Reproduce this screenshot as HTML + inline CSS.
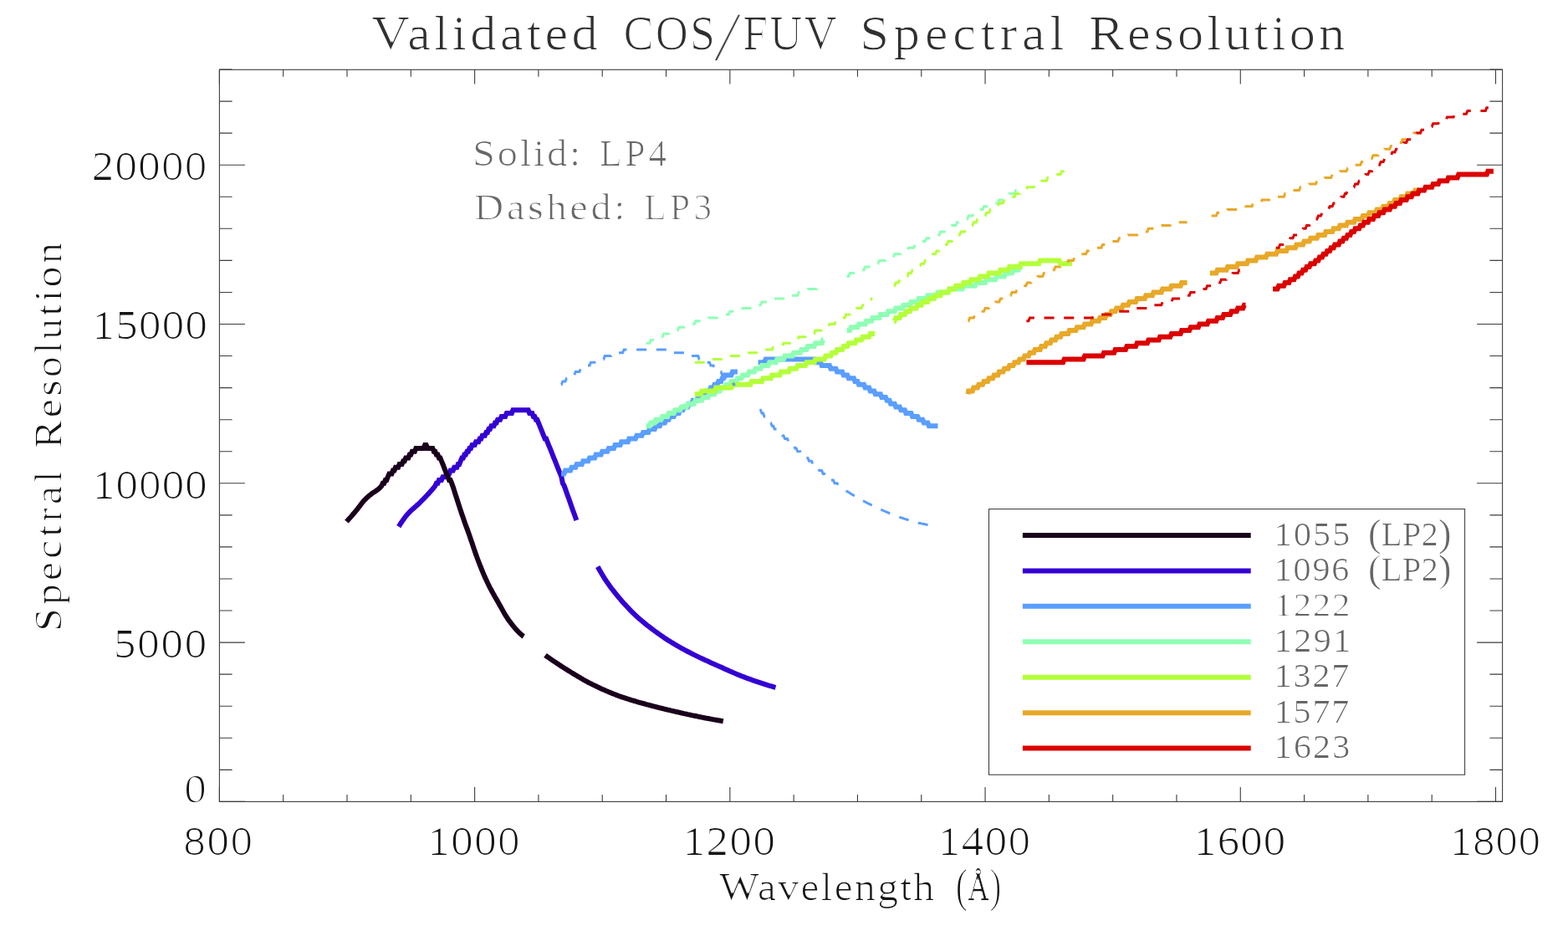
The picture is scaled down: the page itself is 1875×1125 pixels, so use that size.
<!DOCTYPE html>
<html lang="en"><head><meta charset="utf-8"><title>Validated COS/FUV Spectral Resolution</title>
<style>
html,body{margin:0;padding:0;background:#fff;}
body{width:1875px;height:1125px;overflow:hidden;}
svg{display:block;}
text{font-family:"Liberation Serif",serif;}
</style></head><body>
<svg width="1875" height="1125" viewBox="0 0 1875 1125">
<rect x="0" y="0" width="1875" height="1125" fill="#ffffff"/>
<g fill="none" stroke-linejoin="miter" stroke-linecap="butt">
<polyline points="476.8,629.6 477.6,628.3 479.1,625.9 480.6,623.6 482.2,621.4 483.7,619.3 485.2,617.3 486.7,615.4 488.3,613.7 489.8,612.1 491.3,610.6 492.8,609.2 494.4,607.9 495.9,606.5 497.4,605.2 498.9,603.8 500.5,602.5 502.0,601.0 503.5,599.5 505.0,597.9 506.6,596.4 508.1,594.8 509.6,593.2 511.2,591.5 512.7,589.9 514.2,588.2 515.7,586.5 517.3,584.8 518.8,582.9 520.3,581.0 521.8,577.8 523.4,577.8 524.9,574.0 527.9,574.0 529.5,570.2 532.5,570.2 534.0,566.4 537.1,566.4 538.6,562.6 541.7,562.6 543.2,558.8 546.3,558.8 547.8,555.0 549.3,555.0 550.8,551.2 552.4,547.4 553.9,547.4 555.4,543.5 556.9,543.5 558.5,539.7 560.0,539.7 561.5,535.9 563.0,535.9 564.6,532.1 567.6,532.1 569.1,528.3 572.2,528.3 573.7,524.5 575.3,524.5 576.8,520.7 579.8,520.7 581.4,516.9 582.9,516.9 584.4,513.1 585.9,513.1 587.5,509.3 590.5,509.3 592.0,505.5 593.6,505.5 595.1,501.7 598.1,501.7 599.7,497.9 604.2,497.9 605.8,494.1 611.9,494.1 613.4,490.3 631.7,490.3 633.2,494.1 636.3,494.1 637.8,497.9 639.3,497.9 640.9,501.7 642.4,501.7 643.9,505.5 645.5,509.3 647.0,513.1 648.5,516.9 650.0,520.7 651.6,524.5 653.1,524.5 654.6,528.3 656.1,532.1 657.7,535.9 659.2,539.7 660.7,543.5 662.2,547.4 663.8,551.2 665.3,555.0 666.8,558.8 668.3,562.6 669.9,566.4 671.4,570.2 672.9,577.8 674.4,580.2 676.0,584.4 677.5,588.7 679.0,593.0 680.6,597.3 682.1,601.7 683.6,605.9 685.1,610.2 686.7,614.5 688.2,618.8 689.3,621.9" stroke="#3400d4" stroke-width="6"/>
<polyline points="714.7,677.6 715.7,679.3 717.2,682.0 718.7,684.6 720.2,687.2 721.8,689.6 723.3,692.1 724.8,694.4 726.3,696.6 727.9,698.8 729.4,700.9 730.9,703.0 732.4,705.0 734.0,706.9 735.5,708.9 737.0,710.7 738.5,712.6 740.1,714.4 741.6,716.2 743.1,718.0 744.6,719.7 746.2,721.4 747.7,723.1 749.2,724.8 750.8,726.4 752.3,728.0 753.8,729.6 755.3,731.2 756.9,732.7 758.4,734.1 759.9,735.6 761.4,737.0 763.0,738.4 764.5,739.7 766.0,741.0 767.5,742.3 769.1,743.6 770.6,744.9 772.1,746.1 773.6,747.3 775.2,748.5 776.7,749.7 778.2,750.9 779.7,752.0 781.3,753.2 782.8,754.3 784.3,755.4 785.9,756.5 787.4,757.6 788.9,758.7 790.4,759.8 792.0,760.8 793.5,761.9 795.0,762.9 796.5,763.9 798.1,764.9 799.6,765.9 801.1,766.8 802.6,767.8 804.2,768.7 805.7,769.6 807.2,770.5 808.7,771.4 810.3,772.3 811.8,773.2 813.3,774.0 814.8,774.9 816.4,775.7 817.9,776.5 819.4,777.4 821.0,778.2 822.5,779.0 824.0,779.8 825.5,780.5 827.1,781.3 828.6,782.1 830.1,782.9 831.6,783.6 833.2,784.4 834.7,785.1 836.2,785.9 837.7,786.6 839.3,787.3 840.8,788.0 842.3,788.7 843.8,789.4 845.4,790.1 846.9,790.8 848.4,791.5 849.9,792.2 851.5,792.9 853.0,793.6 854.5,794.2 856.1,794.9 857.6,795.6 859.1,796.3 860.6,796.9 862.2,797.6 863.7,798.3 865.2,799.0 866.7,799.7 868.3,800.4 869.8,801.0 871.3,801.7 872.8,802.4 874.4,803.1 875.9,803.7 877.4,804.4 878.9,805.1 880.5,805.7 882.0,806.4 883.5,807.0 885.0,807.6 886.6,808.2 888.1,808.8 889.6,809.4 891.2,810.0 892.7,810.6 894.2,811.1 895.7,811.7 897.3,812.2 898.8,812.8 900.3,813.3 901.8,813.9 903.4,814.4 904.9,814.9 906.4,815.4 907.9,815.9 909.5,816.4 911.0,816.9 912.5,817.4 914.0,817.9 915.6,818.4 917.1,818.9 918.6,819.3 920.1,819.8 921.7,820.2 923.2,820.7 924.7,821.1 926.3,821.6 927.5,821.9" stroke="#3400d4" stroke-width="6"/>
<polyline points="414.5,623.6 415.0,623.0 416.5,621.3 418.1,619.6 419.6,617.9 421.1,616.1 422.6,614.3 424.2,612.5 425.7,610.7 427.2,608.8 428.7,606.8 430.3,604.8 431.8,602.8 433.3,600.8 434.8,599.0 436.4,597.4 437.9,595.9 439.4,594.5 441.0,593.1 442.5,591.8 444.0,590.6 445.5,589.5 447.1,588.4 448.6,587.5 450.1,586.5 451.6,585.4 453.2,584.2 454.7,582.7 456.2,581.0 457.7,577.8 459.3,577.8 460.8,574.0 462.3,574.0 463.8,570.2 465.4,566.4 468.4,566.4 469.9,562.6 471.5,562.6 473.0,558.8 476.1,558.8 477.6,555.0 480.6,555.0 482.2,551.2 483.7,551.2 485.2,547.4 488.3,547.4 489.8,543.5 491.3,543.5 492.8,539.7 495.9,539.7 497.4,535.9 506.6,535.9 508.1,532.1 509.6,532.1 511.2,535.9 517.3,535.9 518.8,539.7 520.3,539.7 521.8,543.5 523.4,543.5 524.9,547.4 526.4,547.4 527.9,551.2 529.5,555.0 531.0,558.8 532.5,562.6 534.0,566.4 535.6,570.2 537.1,574.0 538.6,574.0 540.2,577.8 541.7,582.0 543.2,586.6 544.7,591.5 546.3,596.3 547.8,601.0 549.3,605.6 550.8,610.3 552.4,614.9 553.9,619.3 555.4,623.7 556.9,627.9 558.5,632.1 560.0,636.3 561.5,640.6 563.0,645.0 564.6,649.5 566.1,654.1 567.6,658.5 569.1,662.9 570.7,667.2 572.2,671.2 573.7,675.1 575.3,679.0 576.8,682.8 578.3,686.4 579.8,689.9 581.4,693.3 582.9,696.6 584.4,699.7 585.9,702.6 587.5,705.5 589.0,708.3 590.5,711.0 592.0,713.7 593.6,716.4 595.1,719.0 596.6,721.7 598.1,724.4 599.7,727.1 601.2,729.9 602.7,732.6 604.2,735.2 605.8,737.7 607.3,740.0 608.8,742.2 610.4,744.2 611.9,746.2 613.4,748.1 614.9,749.9 616.5,751.7 618.0,753.4 619.5,755.0 621.0,756.6 622.6,758.0 624.1,759.3 625.6,760.6 626.2,761.0" stroke="#1a001c" stroke-width="6"/>
<polyline points="652.0,783.4 653.1,784.2 654.6,785.2 656.1,786.3 657.7,787.4 659.2,788.4 660.7,789.5 662.2,790.5 663.8,791.5 665.3,792.5 666.8,793.6 668.3,794.6 669.9,795.6 671.4,796.6 672.9,797.5 674.4,798.5 676.0,799.5 677.5,800.4 679.0,801.4 680.6,802.3 682.1,803.3 683.6,804.2 685.1,805.1 686.7,806.1 688.2,807.0 689.7,807.9 691.2,808.8 692.8,809.7 694.3,810.6 695.8,811.5 697.3,812.4 698.9,813.3 700.4,814.1 701.9,814.9 703.4,815.8 705.0,816.6 706.5,817.3 708.0,818.1 709.5,818.9 711.1,819.6 712.6,820.3 714.1,821.1 715.7,821.8 717.2,822.5 718.7,823.2 720.2,823.9 721.8,824.6 723.3,825.3 724.8,825.9 726.3,826.6 727.9,827.3 729.4,827.9 730.9,828.5 732.4,829.1 734.0,829.7 735.5,830.3 737.0,830.9 738.5,831.5 740.1,832.1 741.6,832.6 743.1,833.1 744.6,833.7 746.2,834.2 747.7,834.7 749.2,835.2 750.8,835.7 752.3,836.1 753.8,836.6 755.3,837.1 756.9,837.5 758.4,838.0 759.9,838.4 761.4,838.9 763.0,839.3 764.5,839.8 766.0,840.2 767.5,840.6 769.1,841.0 770.6,841.4 772.1,841.9 773.6,842.3 775.2,842.7 776.7,843.1 778.2,843.5 779.7,843.9 781.3,844.3 782.8,844.7 784.3,845.1 785.9,845.5 787.4,845.9 788.9,846.3 790.4,846.6 792.0,847.0 793.5,847.4 795.0,847.8 796.5,848.1 798.1,848.5 799.6,848.8 801.1,849.2 802.6,849.6 804.2,849.9 805.7,850.3 807.2,850.6 808.7,851.0 810.3,851.3 811.8,851.7 813.3,852.0 814.8,852.4 816.4,852.7 817.9,853.1 819.4,853.4 821.0,853.7 822.5,854.1 824.0,854.4 825.5,854.7 827.1,855.1 828.6,855.4 830.1,855.7 831.6,856.0 833.2,856.3 834.7,856.7 836.2,857.0 837.7,857.3 839.3,857.6 840.8,857.9 842.3,858.2 843.8,858.5 845.4,858.7 846.9,859.0 848.4,859.3 849.9,859.6 851.5,859.9 853.0,860.2 854.5,860.4 856.1,860.7 857.6,861.0 859.1,861.2 860.6,861.5 862.2,861.8 863.7,862.0 864.8,862.2" stroke="#1a001c" stroke-width="6"/>
<polyline points="671.1,566.4 674.4,566.4 676.0,562.6 682.1,562.6 683.6,558.8 688.2,558.8 689.7,555.0 695.8,555.0 697.3,551.2 703.4,551.2 705.0,547.4 711.1,547.4 712.6,543.5 718.7,543.5 720.2,539.7 726.3,539.7 727.9,535.9 734.0,535.9 735.5,532.1 741.6,532.1 743.1,528.3 750.8,528.3 752.3,524.5 759.9,524.5 761.4,520.7 767.5,520.7 769.1,516.9 775.2,516.9 776.7,513.1 782.8,513.1 784.3,509.3 788.9,509.3 790.4,505.5 795.0,505.5 796.5,501.7 799.6,501.7 801.1,497.9 805.7,497.9 807.2,494.1 811.8,494.1 813.3,490.3 816.4,490.3 817.9,486.5 822.5,486.5 824.0,482.7 827.1,482.7 828.6,478.8 833.2,478.8 834.7,475.0 837.7,475.0 839.3,471.2 843.8,471.2 845.4,467.4 848.4,467.4 849.9,463.6 853.0,463.6 854.5,459.8 857.6,459.8 859.1,456.0 862.2,456.0 863.7,452.2 865.2,452.2 866.7,448.4 874.4,448.4 875.9,444.6 881.9,444.6" stroke="#5a9eff" stroke-width="6"/>
<polyline points="906.6,433.2 914.0,433.2 915.6,429.4 973.6,429.4 975.1,433.2 981.2,433.2 982.7,437.0 991.9,437.0 993.4,440.8 999.5,440.8 1001.0,444.6 1007.1,444.6 1008.7,448.4 1013.2,448.4 1014.8,452.2 1020.9,452.2 1022.4,456.0 1025.4,456.0 1027.0,459.8 1033.1,459.8 1034.6,463.6 1039.2,463.6 1040.7,467.4 1045.3,467.4 1046.8,471.2 1052.9,471.2 1054.4,475.0 1059.0,475.0 1060.6,478.8 1063.6,478.8 1065.1,482.7 1069.7,482.7 1071.2,486.5 1075.8,486.5 1077.3,490.3 1081.9,490.3 1083.4,494.1 1089.5,494.1 1091.1,497.9 1097.2,497.9 1098.7,501.7 1103.3,501.7 1104.8,505.5 1109.4,505.5 1110.9,509.3 1121.5,509.3" stroke="#5a9eff" stroke-width="6"/>
<polyline points="772.6,509.3 776.7,509.3 778.2,505.5 782.8,505.5 784.3,501.7 790.4,501.7 792.0,497.9 798.1,497.9 799.6,494.1 805.7,494.1 807.2,490.3 813.3,490.3 814.8,486.5 821.0,486.5 822.5,482.7 830.1,482.7 831.6,478.8 839.3,478.8 840.8,475.0 846.9,475.0 848.4,471.2 854.5,471.2 856.1,467.4 860.6,467.4 862.2,463.6 866.7,463.6 868.3,459.8 872.8,459.8 874.4,456.0 880.5,456.0 882.0,452.2 886.6,452.2 888.1,448.4 894.2,448.4 895.7,444.6 901.8,444.6 903.4,440.8 909.5,440.8 911.0,437.0 918.6,437.0 920.1,433.2 927.8,433.2 929.3,429.4 936.9,429.4 938.5,425.6 947.6,425.6 949.1,421.8 956.8,421.8 958.3,417.9 964.4,417.9 965.9,414.1 973.6,414.1 975.1,410.3 982.7,410.3 984.2,406.5 984.5,406.5" stroke="#8effb4" stroke-width="6"/>
<polyline points="1012.6,395.1 1016.3,395.1 1017.8,391.3 1025.4,391.3 1027.0,387.5 1034.6,387.5 1036.1,383.7 1042.2,383.7 1043.8,379.9 1051.4,379.9 1052.9,376.1 1060.6,376.1 1062.1,372.3 1069.7,372.3 1071.2,368.5 1078.9,368.5 1080.4,364.7 1088.0,364.7 1089.5,360.9 1097.2,360.9 1098.7,357.1 1107.9,357.1 1109.4,353.2 1120.1,353.2 1121.6,349.4 1133.8,349.4 1135.3,345.6 1150.6,345.6 1152.1,341.8 1165.9,341.8 1167.4,338.0 1178.1,338.0 1179.6,334.2 1190.3,334.2 1191.8,330.4 1201.0,330.4 1202.5,326.6 1210.1,326.6 1211.6,322.8 1217.7,322.8 1219.3,319.0 1222.9,319.0" stroke="#8effb4" stroke-width="6"/>
<polyline points="830.7,471.2 837.7,471.2 839.3,467.4 854.5,467.4 856.1,463.6 874.4,463.6 875.9,459.8 897.3,459.8 898.8,456.0 911.0,456.0 912.5,452.2 921.7,452.2 923.2,448.4 932.4,448.4 933.9,444.6 943.0,444.6 944.6,440.8 952.2,440.8 953.7,437.0 962.9,437.0 964.4,433.2 973.6,433.2 975.1,429.4 985.8,429.4 987.3,425.6 993.4,425.6 994.9,421.8 999.5,421.8 1001.0,417.9 1007.1,417.9 1008.7,414.1 1013.2,414.1 1014.8,410.3 1022.4,410.3 1023.9,406.5 1030.0,406.5 1031.6,402.7 1039.2,402.7 1040.7,398.9 1046.1,398.9" stroke="#b4ff3a" stroke-width="6"/>
<polyline points="1068.8,383.7 1069.7,383.7 1071.2,379.9 1075.8,379.9 1077.3,376.1 1081.9,376.1 1083.4,372.3 1088.0,372.3 1089.5,368.5 1095.7,368.5 1097.2,364.7 1101.8,364.7 1103.3,360.9 1109.4,360.9 1110.9,357.1 1117.0,357.1 1118.5,353.2 1124.6,353.2 1126.2,349.4 1133.8,349.4 1135.3,345.6 1141.4,345.6 1143.0,341.8 1150.6,341.8 1152.1,338.0 1159.7,338.0 1161.3,334.2 1170.4,334.2 1172.0,330.4 1181.1,330.4 1182.6,326.6 1194.8,326.6 1196.4,322.8 1205.5,322.8 1207.1,319.0 1219.3,319.0 1220.8,315.2 1242.2,315.2 1243.7,311.4 1266.6,311.4 1268.1,315.2 1281.9,315.2" stroke="#b4ff3a" stroke-width="6"/>
<polyline points="1157.6,471.2 1158.2,467.4 1162.8,467.4 1164.3,463.6 1168.9,463.6 1170.4,459.8 1175.0,459.8 1176.5,456.0 1181.1,456.0 1182.6,452.2 1187.2,452.2 1188.7,448.4 1193.3,448.4 1194.8,444.6 1199.4,444.6 1201.0,440.8 1205.5,440.8 1207.1,437.0 1211.6,437.0 1213.2,433.2 1217.7,433.2 1219.3,429.4 1223.8,429.4 1225.4,425.6 1229.9,425.6 1231.5,421.8 1236.1,421.8 1237.6,417.9 1243.7,417.9 1245.2,414.1 1249.8,414.1 1251.3,410.3 1255.9,410.3 1257.4,406.5 1262.0,406.5 1263.5,402.7 1268.1,402.7 1269.6,398.9 1277.3,398.9 1278.8,395.1 1286.4,395.1 1287.9,391.3 1295.6,391.3 1297.1,387.5 1304.7,387.5 1306.3,383.7 1313.9,383.7 1315.4,379.9 1321.5,379.9 1323.0,376.1 1327.6,376.1 1329.1,372.3 1333.7,372.3 1335.2,368.5 1341.4,368.5 1342.9,364.7 1349.0,364.7 1350.5,360.9 1358.1,360.9 1359.7,357.1 1368.8,357.1 1370.3,353.2 1378.0,353.2 1379.5,349.4 1388.7,349.4 1390.2,345.6 1399.3,345.6 1400.9,341.8 1411.6,341.8 1413.1,338.0 1419.6,338.0" stroke="#e8a828" stroke-width="6"/>
<polyline points="1446.8,326.6 1454.3,326.6 1455.8,322.8 1466.5,322.8 1468.0,319.0 1478.7,319.0 1480.2,315.2 1490.9,315.2 1492.4,311.4 1501.6,311.4 1503.1,307.6 1513.8,307.6 1515.3,303.8 1526.0,303.8 1527.5,300.0 1538.2,300.0 1539.7,296.2 1548.9,296.2 1550.4,292.4 1558.1,292.4 1559.6,288.5 1565.7,288.5 1567.2,284.7 1574.8,284.7 1576.4,280.9 1584.0,280.9 1585.5,277.1 1593.2,277.1 1594.7,273.3 1600.8,273.3 1602.3,269.5 1609.9,269.5 1611.5,265.7 1619.1,265.7 1620.6,261.9 1628.3,261.9 1629.8,258.1 1635.9,258.1 1637.4,254.3 1645.0,254.3 1646.6,250.5 1652.7,250.5 1654.2,246.7 1660.3,246.7 1661.8,242.9 1666.4,242.9 1667.9,239.1 1674.0,239.1 1675.6,235.3 1681.7,235.3 1683.2,231.5 1690.8,231.5 1692.4,227.6 1698.0,227.6" stroke="#e8a828" stroke-width="6"/>
<polyline points="1227.4,433.2 1271.2,433.2 1272.7,429.4 1295.6,429.4 1297.1,425.6 1318.5,425.6 1320.0,421.8 1332.2,421.8 1333.7,417.9 1345.9,417.9 1347.5,414.1 1358.1,414.1 1359.7,410.3 1371.9,410.3 1373.4,406.5 1385.6,406.5 1387.1,402.7 1399.3,402.7 1400.9,398.9 1411.6,398.9 1413.1,395.1 1422.2,395.1 1423.8,391.3 1432.9,391.3 1434.4,387.5 1443.6,387.5 1445.1,383.7 1454.3,383.7 1455.8,379.9 1461.9,379.9 1463.4,376.1 1471.1,376.1 1472.6,372.3 1478.7,372.3 1480.2,368.5 1486.3,368.5 1487.9,364.7 1489.5,364.7" stroke="#dc0000" stroke-width="6"/>
<polyline points="1522.1,345.6 1527.5,345.6 1529.1,341.8 1535.2,341.8 1536.7,338.0 1541.3,338.0 1542.8,334.2 1547.4,334.2 1548.9,330.4 1552.0,330.4 1553.5,326.6 1556.5,326.6 1558.1,322.8 1561.1,322.8 1562.6,319.0 1565.7,319.0 1567.2,315.2 1571.8,315.2 1573.3,311.4 1576.4,311.4 1577.9,307.6 1581.0,307.6 1582.5,303.8 1585.5,303.8 1587.1,300.0 1590.1,300.0 1591.6,296.2 1594.7,296.2 1596.2,292.4 1600.8,292.4 1602.3,288.5 1605.4,288.5 1606.9,284.7 1609.9,284.7 1611.5,280.9 1614.5,280.9 1616.1,277.1 1619.1,277.1 1620.6,273.3 1625.2,273.3 1626.7,269.5 1629.8,269.5 1631.3,265.7 1635.9,265.7 1637.4,261.9 1642.0,261.9 1643.5,258.1 1648.1,258.1 1649.6,254.3 1654.2,254.3 1655.7,250.5 1661.8,250.5 1663.4,246.7 1667.9,246.7 1669.5,242.9 1674.0,242.9 1675.6,239.1 1681.7,239.1 1683.2,235.3 1687.8,235.3 1689.3,231.5 1695.4,231.5 1696.9,227.6 1703.0,227.6 1704.6,223.8 1712.2,223.8 1713.7,220.0 1719.8,220.0 1721.4,216.2 1730.5,216.2 1732.0,212.4 1742.7,212.4 1744.2,208.6 1777.8,208.6 1779.3,204.8 1785.9,204.8" stroke="#dc0000" stroke-width="6"/>
<polyline points="671.1,459.8 671.4,459.8 672.9,456.0 676.0,456.0 677.5,452.2 682.1,452.2 683.6,448.4 686.7,448.4 688.2,444.6 692.8,444.6 694.3,440.8 698.9,440.8 700.4,437.0 705.0,437.0 706.5,433.2 712.6,433.2 714.1,429.4 721.8,429.4 723.3,425.6 730.9,425.6 732.4,421.8 744.6,421.8 746.2,417.9 802.6,417.9 804.2,421.8 819.4,421.8 821.0,425.6 834.7,425.6 836.2,429.4 842.3,429.4 843.8,433.2 848.4,433.2 849.9,437.0 853.0,437.0 854.5,440.8 857.6,440.8 859.1,444.6 862.2,444.6 863.7,448.4 866.7,448.4 868.3,452.2 871.3,452.2 872.8,456.0 875.9,456.0 877.4,459.8 879.3,459.8" stroke="#5a9eff" stroke-width="3" stroke-dasharray="12 11.7"/>
<polyline points="908.3,490.3 909.5,490.3 911.0,494.1 912.5,494.1 914.0,497.9 915.6,497.9 917.1,501.7 918.6,501.7 920.1,505.5 921.7,505.5 923.2,509.3 924.7,509.3 926.3,513.1 929.3,513.1 930.8,516.9 933.9,516.9 935.4,520.7 936.9,520.7 938.5,524.5 941.5,524.5 943.0,528.3 944.6,528.3 946.1,532.1 949.1,532.1 950.7,535.9 952.2,535.9 953.7,539.7 956.8,539.7 958.3,543.5 961.4,543.5 962.9,547.4 965.9,547.4 967.5,551.2 970.5,551.2 972.0,555.0 973.6,555.0 975.1,558.8 978.1,558.8 979.7,562.6 982.7,562.6 984.2,566.4 985.8,566.4 987.3,570.2 990.3,570.2 991.9,574.0 996.5,574.0 998.0,577.8 1001.0,577.8 1002.6,580.4 1004.1,581.5 1005.6,582.6 1007.1,583.6 1008.7,584.6 1010.2,585.7 1011.7,586.7 1013.2,587.6 1014.8,588.6 1016.3,589.6 1017.8,590.5 1019.3,591.4 1020.9,592.3 1022.4,593.2 1023.9,594.1 1025.4,595.0 1027.0,595.8 1028.5,596.7 1030.0,597.5 1031.6,598.4 1033.1,599.2 1034.6,600.0 1036.1,600.8 1037.7,601.6 1039.2,602.3 1040.7,603.1 1042.2,603.9 1043.8,604.6 1045.3,605.4 1046.8,606.1 1048.3,606.9 1049.9,607.6 1051.4,608.3 1052.9,609.0 1054.4,609.7 1056.0,610.3 1057.5,611.0 1059.0,611.7 1060.6,612.3 1062.1,612.9 1063.6,613.6 1065.1,614.2 1066.7,614.8 1068.2,615.4 1069.7,616.0 1071.2,616.6 1072.8,617.2 1074.3,617.7 1075.8,618.3 1077.3,618.8 1078.9,619.3 1080.4,619.8 1081.9,620.3 1083.4,620.8 1085.0,621.3 1086.5,621.8 1088.0,622.2 1089.5,622.7 1091.1,623.1 1092.6,623.6 1094.1,624.0 1095.7,624.4 1097.2,624.8 1098.7,625.2 1100.2,625.5 1101.8,625.9 1103.3,626.2 1104.8,626.5 1106.3,626.8 1107.9,627.2 1109.4,627.4 1110.9,627.7 1112.4,628.0 1114.0,628.3 1115.5,628.5 1117.0,628.8 1118.5,629.0 1120.1,629.2 1120.6,629.3" stroke="#5a9eff" stroke-width="3" stroke-dasharray="12 11.7"/>
<polyline points="772.6,410.3 776.7,410.3 778.2,406.5 782.8,406.5 784.3,402.7 792.0,402.7 793.5,398.9 799.6,398.9 801.1,395.1 810.3,395.1 811.8,391.3 819.4,391.3 821.0,387.5 830.1,387.5 831.6,383.7 845.4,383.7 846.9,379.9 859.1,379.9 860.6,376.1 871.3,376.1 872.8,372.3 886.6,372.3 888.1,368.5 898.8,368.5 900.3,364.7 909.5,364.7 911.0,360.9 923.2,360.9 924.7,357.1 940.0,357.1 941.5,353.2 953.7,353.2 955.2,349.4 964.4,349.4 965.9,345.6 976.6,345.6 978.1,341.8 985.5,341.8" stroke="#8effb4" stroke-width="3" stroke-dasharray="12 11.7"/>
<polyline points="1012.6,330.4 1014.8,330.4 1016.3,326.6 1023.9,326.6 1025.4,322.8 1033.1,322.8 1034.6,319.0 1042.2,319.0 1043.8,315.2 1049.9,315.2 1051.4,311.4 1059.0,311.4 1060.6,307.6 1068.2,307.6 1069.7,303.8 1077.3,303.8 1078.9,300.0 1085.0,300.0 1086.5,296.2 1092.6,296.2 1094.1,292.4 1098.7,292.4 1100.2,288.5 1106.3,288.5 1107.9,284.7 1114.0,284.7 1115.5,280.9 1123.1,280.9 1124.6,277.1 1130.8,277.1 1132.3,273.3 1136.9,273.3 1138.4,269.5 1143.0,269.5 1144.5,265.7 1150.6,265.7 1152.1,261.9 1156.7,261.9 1158.2,258.1 1162.8,258.1 1164.3,254.3 1168.9,254.3 1170.4,250.5 1175.0,250.5 1176.5,246.7 1184.2,246.7 1185.7,242.9 1193.3,242.9 1194.8,239.1 1199.4,239.1 1201.0,235.3 1205.5,235.3 1207.1,231.5 1213.2,231.5 1214.7,227.6 1219.3,227.6 1220.8,223.8 1224.0,223.8" stroke="#8effb4" stroke-width="3" stroke-dasharray="12 11.7"/>
<polyline points="830.7,433.2 845.4,433.2 846.9,429.4 869.8,429.4 871.3,425.6 889.6,425.6 891.2,421.8 907.9,421.8 909.5,417.9 923.2,417.9 924.7,414.1 935.4,414.1 936.9,410.3 944.6,410.3 946.1,406.5 953.7,406.5 955.2,402.7 962.9,402.7 964.4,398.9 973.6,398.9 975.1,395.1 982.7,395.1 984.2,391.3 990.3,391.3 991.9,387.5 998.0,387.5 999.5,383.7 1004.1,383.7 1005.6,379.9 1010.2,379.9 1011.7,376.1 1016.3,376.1 1017.8,372.3 1022.4,372.3 1023.9,368.5 1030.0,368.5 1031.6,364.7 1036.1,364.7 1037.7,360.9 1040.7,360.9 1042.2,357.1 1043.4,357.1" stroke="#b4ff3a" stroke-width="3" stroke-dasharray="12 11.7"/>
<polyline points="1068.8,341.8 1069.7,341.8 1071.2,338.0 1074.3,338.0 1075.8,334.2 1080.4,334.2 1081.9,330.4 1085.0,330.4 1086.5,326.6 1089.5,326.6 1091.1,322.8 1095.7,322.8 1097.2,319.0 1100.2,319.0 1101.8,315.2 1104.8,315.2 1106.3,311.4 1109.4,311.4 1110.9,307.6 1114.0,307.6 1115.5,303.8 1118.5,303.8 1120.1,300.0 1123.1,300.0 1124.6,296.2 1127.7,296.2 1129.2,292.4 1132.3,292.4 1133.8,288.5 1138.4,288.5 1139.9,284.7 1143.0,284.7 1144.5,280.9 1147.5,280.9 1149.1,277.1 1153.6,277.1 1155.2,273.3 1158.2,273.3 1159.7,269.5 1162.8,269.5 1164.3,265.7 1167.4,265.7 1168.9,261.9 1172.0,261.9 1173.5,258.1 1178.1,258.1 1179.6,254.3 1182.6,254.3 1184.2,250.5 1188.7,250.5 1190.3,246.7 1193.3,246.7 1194.8,242.9 1199.4,242.9 1201.0,239.1 1205.5,239.1 1207.1,235.3 1213.2,235.3 1214.7,231.5 1219.3,231.5 1220.8,227.6 1226.9,227.6 1228.4,223.8 1236.1,223.8 1237.6,220.0 1243.7,220.0 1245.2,216.2 1251.3,216.2 1252.8,212.4 1258.9,212.4 1260.5,208.6 1268.1,208.6 1269.6,204.8 1275.7,204.8 1277.3,201.0 1280.3,201.0" stroke="#b4ff3a" stroke-width="3" stroke-dasharray="12 11.7"/>
<polyline points="1157.6,383.7 1158.2,383.7 1159.7,379.9 1164.3,379.9 1165.9,376.1 1170.4,376.1 1172.0,372.3 1176.5,372.3 1178.1,368.5 1182.6,368.5 1184.2,364.7 1188.7,364.7 1190.3,360.9 1194.8,360.9 1196.4,357.1 1201.0,357.1 1202.5,353.2 1208.6,353.2 1210.1,349.4 1214.7,349.4 1216.2,345.6 1220.8,345.6 1222.3,341.8 1226.9,341.8 1228.4,338.0 1233.0,338.0 1234.5,334.2 1239.1,334.2 1240.6,330.4 1246.7,330.4 1248.3,326.6 1252.8,326.6 1254.4,322.8 1260.5,322.8 1262.0,319.0 1268.1,319.0 1269.6,315.2 1275.7,315.2 1277.3,311.4 1283.4,311.4 1284.9,307.6 1291.0,307.6 1292.5,303.8 1298.6,303.8 1300.1,300.0 1307.8,300.0 1309.3,296.2 1316.9,296.2 1318.5,292.4 1326.1,292.4 1327.6,288.5 1336.8,288.5 1338.3,284.7 1347.5,284.7 1349.0,280.9 1359.7,280.9 1361.2,277.1 1371.9,277.1 1373.4,273.3 1384.1,273.3 1385.6,269.5 1399.3,269.5 1400.9,265.7 1419.6,265.7" stroke="#e8a828" stroke-width="3" stroke-dasharray="12 11.7"/>
<polyline points="1448.7,258.1 1454.3,258.1 1455.8,254.3 1466.5,254.3 1468.0,250.5 1483.3,250.5 1484.8,246.7 1497.0,246.7 1498.5,242.9 1507.7,242.9 1509.2,239.1 1523.0,239.1 1524.5,235.3 1535.2,235.3 1536.7,231.5 1544.3,231.5 1545.9,227.6 1553.5,227.6 1555.0,223.8 1564.2,223.8 1565.7,220.0 1573.3,220.0 1574.8,216.2 1582.5,216.2 1584.0,212.4 1591.6,212.4 1593.2,208.6 1600.8,208.6 1602.3,204.8 1609.9,204.8 1611.5,201.0 1617.6,201.0 1619.1,197.2 1626.7,197.2 1628.3,193.4 1632.8,193.4 1634.4,189.6 1640.5,189.6 1642.0,185.8 1648.1,185.8 1649.6,182.0 1654.2,182.0 1655.7,178.2 1661.8,178.2 1663.4,174.4 1669.5,174.4 1671.0,170.6 1675.6,170.6 1677.1,166.8 1683.2,166.8 1684.7,162.9 1689.3,162.9 1690.8,159.1 1699.7,159.1" stroke="#e8a828" stroke-width="3" stroke-dasharray="12 11.7"/>
<polyline points="1227.4,383.7 1229.9,383.7 1231.5,379.9 1306.3,379.9 1307.8,376.1 1332.2,376.1 1333.7,372.3 1353.6,372.3 1355.1,368.5 1373.4,368.5 1374.9,364.7 1388.7,364.7 1390.2,360.9 1400.9,360.9 1402.4,357.1 1411.6,357.1 1413.1,353.2 1422.2,353.2 1423.8,349.4 1431.4,349.4 1432.9,345.6 1442.1,345.6 1443.6,341.8 1451.2,341.8 1452.8,338.0 1458.9,338.0 1460.4,334.2 1466.5,334.2 1468.0,330.4 1472.6,330.4 1474.1,326.6 1480.2,326.6 1481.8,322.8 1486.3,322.8 1487.9,319.0 1491.3,319.0" stroke="#dc0000" stroke-width="3" stroke-dasharray="12 11.7"/>
<polyline points="1525.7,296.2 1529.1,296.2 1530.6,292.4 1535.2,292.4 1536.7,288.5 1541.3,288.5 1542.8,284.7 1545.9,284.7 1547.4,280.9 1552.0,280.9 1553.5,277.1 1556.5,277.1 1558.1,273.3 1561.1,273.3 1562.6,269.5 1565.7,269.5 1567.2,265.7 1570.3,265.7 1571.8,261.9 1574.8,261.9 1576.4,258.1 1579.4,258.1 1581.0,254.3 1584.0,254.3 1585.5,250.5 1588.6,250.5 1590.1,246.7 1593.2,246.7 1594.7,242.9 1597.7,242.9 1599.3,239.1 1602.3,239.1 1603.8,235.3 1606.9,235.3 1608.4,231.5 1609.9,231.5 1611.5,227.6 1614.5,227.6 1616.1,223.8 1619.1,223.8 1620.6,220.0 1623.7,220.0 1625.2,216.2 1628.3,216.2 1629.8,212.4 1631.3,212.4 1632.8,208.6 1635.9,208.6 1637.4,204.8 1640.5,204.8 1642.0,201.0 1645.0,201.0 1646.6,197.2 1649.6,197.2 1651.2,193.4 1654.2,193.4 1655.7,189.6 1658.8,189.6 1660.3,185.8 1663.4,185.8 1664.9,182.0 1667.9,182.0 1669.5,178.2 1672.5,178.2 1674.0,174.4 1677.1,174.4 1678.6,170.6 1681.7,170.6 1683.2,166.8 1687.8,166.8 1689.3,162.9 1692.4,162.9 1693.9,159.1 1698.5,159.1 1700.0,155.3 1704.6,155.3 1706.1,151.5 1712.2,151.5 1713.7,147.7 1719.8,147.7 1721.4,143.9 1729.0,143.9 1730.5,140.1 1738.1,140.1 1739.7,136.3 1753.4,136.3 1754.9,132.5 1776.3,132.5 1777.8,128.7 1784.7,128.7" stroke="#dc0000" stroke-width="3" stroke-dasharray="12 11.7"/>
</g>
<g stroke="#3c3c3c" stroke-width="1.1" fill="none" shape-rendering="auto">
<rect x="262.4" y="83.3" width="1534.1999999999998" height="875.1"/>
<path d="M262.40 958.4v-17.3M262.40 83.3v17.3M338.70 958.4v-8.4M338.70 83.3v8.4M415.01 958.4v-8.4M415.01 83.3v8.4M491.31 958.4v-8.4M491.31 83.3v8.4M567.62 958.4v-17.3M567.62 83.3v17.3M643.92 958.4v-8.4M643.92 83.3v8.4M720.23 958.4v-8.4M720.23 83.3v8.4M796.53 958.4v-8.4M796.53 83.3v8.4M872.84 958.4v-17.3M872.84 83.3v17.3M949.14 958.4v-8.4M949.14 83.3v8.4M1025.45 958.4v-8.4M1025.45 83.3v8.4M1101.76 958.4v-8.4M1101.76 83.3v8.4M1178.06 958.4v-17.3M1178.06 83.3v17.3M1254.37 958.4v-8.4M1254.37 83.3v8.4M1330.67 958.4v-8.4M1330.67 83.3v8.4M1406.97 958.4v-8.4M1406.97 83.3v8.4M1483.28 958.4v-17.3M1483.28 83.3v17.3M1559.59 958.4v-8.4M1559.59 83.3v8.4M1635.89 958.4v-8.4M1635.89 83.3v8.4M1712.20 958.4v-8.4M1712.20 83.3v8.4M1788.50 958.4v-17.3M1788.50 83.3v17.3M262.4 958.40h30.5M1796.6 958.40h-30.5M262.4 920.34h15.2M1796.6 920.34h-15.2M262.4 882.28h15.2M1796.6 882.28h-15.2M262.4 844.22h15.2M1796.6 844.22h-15.2M262.4 806.16h15.2M1796.6 806.16h-15.2M262.4 768.10h30.5M1796.6 768.10h-30.5M262.4 730.04h15.2M1796.6 730.04h-15.2M262.4 691.98h15.2M1796.6 691.98h-15.2M262.4 653.92h15.2M1796.6 653.92h-15.2M262.4 615.86h15.2M1796.6 615.86h-15.2M262.4 577.80h30.5M1796.6 577.80h-30.5M262.4 539.74h15.2M1796.6 539.74h-15.2M262.4 501.68h15.2M1796.6 501.68h-15.2M262.4 463.62h15.2M1796.6 463.62h-15.2M262.4 425.56h15.2M1796.6 425.56h-15.2M262.4 387.50h30.5M1796.6 387.50h-30.5M262.4 349.44h15.2M1796.6 349.44h-15.2M262.4 311.38h15.2M1796.6 311.38h-15.2M262.4 273.32h15.2M1796.6 273.32h-15.2M262.4 235.26h15.2M1796.6 235.26h-15.2M262.4 197.20h30.5M1796.6 197.20h-30.5M262.4 159.14h15.2M1796.6 159.14h-15.2M262.4 121.08h15.2M1796.6 121.08h-15.2M262.4 83.02h15.2M1796.6 83.02h-15.2"/>
</g>
<rect x="1182.5" y="608.6" width="569.1" height="317.6" fill="#fff" stroke="#333" stroke-width="1"/>
<line x1="1222.9" x2="1495.7" y1="640.00" y2="640.00" stroke="#1a001c" stroke-width="6"/>
<line x1="1222.9" x2="1495.7" y1="682.43" y2="682.43" stroke="#3400d4" stroke-width="6"/>
<line x1="1222.9" x2="1495.7" y1="724.86" y2="724.86" stroke="#5a9eff" stroke-width="6"/>
<line x1="1222.9" x2="1495.7" y1="767.29" y2="767.29" stroke="#8effb4" stroke-width="6"/>
<line x1="1222.9" x2="1495.7" y1="809.72" y2="809.72" stroke="#b4ff3a" stroke-width="6"/>
<line x1="1222.9" x2="1495.7" y1="852.15" y2="852.15" stroke="#e8a828" stroke-width="6"/>
<line x1="1222.9" x2="1495.7" y1="894.58" y2="894.58" stroke="#dc0000" stroke-width="6"/>
<g transform="translate(446.00,59.20)"><mask id="m0" mask-type="alpha" maskUnits="userSpaceOnUse" x="-40" y="-90" width="1261" height="160"><use href="#t0" x="1.8" y="0.5"/></mask><g mask="url(#m0)"><text id="t0" y="-0.25" font-size="57" fill="#303030"><tspan x="-2.90" letter-spacing="3.35" textLength="274.87" lengthAdjust="spacingAndGlyphs">Validated</tspan> <tspan x="298.50" letter-spacing="1.87" textLength="257.22" lengthAdjust="spacingAndGlyphs">COS<tspan font-size="88" dy="12" dx="-3" rotate="9" fill="#4a4a4a">/</tspan><tspan dy="-12" dx="9">FUV</tspan></tspan> <tspan x="580.90" letter-spacing="4.59" textLength="250.30" lengthAdjust="spacingAndGlyphs">Spectral</tspan> <tspan x="854.90" letter-spacing="2.98" textLength="310.03" lengthAdjust="spacingAndGlyphs">Resolution</tspan></text></g></g>
<g transform="translate(860.80,1076.20)"><mask id="m1" mask-type="alpha" maskUnits="userSpaceOnUse" x="-40" y="-90" width="434" height="160"><use href="#t1" x="1.7" y="0.4"/></mask><g mask="url(#m1)"><text id="t1" y="-0.20" font-size="45.5" fill="#141414"><tspan x="-1.85" letter-spacing="1.54" textLength="259.36" lengthAdjust="spacingAndGlyphs">Wavelength</tspan> <tspan x="280.85" textLength="55.38" lengthAdjust="spacingAndGlyphs"><tspan font-size="56" dy="2">(</tspan><tspan dy="-2" stroke="#141414" stroke-width="0.7">Å</tspan><tspan font-size="56" dy="2">)</tspan><tspan dy="-2"></tspan></tspan></text></g></g>
<g transform="translate(73.50,751.40) rotate(-90)"><mask id="m2" mask-type="alpha" maskUnits="userSpaceOnUse" x="-40" y="-90" width="559" height="160"><use href="#t2" x="1.7" y="0.4"/></mask><g mask="url(#m2)"><text id="t2" y="-0.20" font-size="45.5" fill="#141414"><tspan x="-4.85" letter-spacing="3.25" textLength="196.09" lengthAdjust="spacingAndGlyphs">Spectral</tspan> <tspan x="214.25" letter-spacing="2.53" textLength="249.19" lengthAdjust="spacingAndGlyphs">Resolution</tspan></text></g></g>
<g transform="translate(568.80,197.80)"><mask id="m3" mask-type="alpha" maskUnits="userSpaceOnUse" x="-40" y="-90" width="327" height="160"><use href="#t3" x="1.5" y="0.4"/></mask><g mask="url(#m3)"><text id="t3" y="-0.20" font-size="44" fill="#686868"><tspan x="-4.75" letter-spacing="2.14" textLength="132.16" lengthAdjust="spacingAndGlyphs">Solid:</tspan> <tspan x="147.45" letter-spacing="3.5" textLength="83.86" lengthAdjust="spacingAndGlyphs">LP4</tspan></text></g></g>
<g transform="translate(568.80,262.60)"><mask id="m4" mask-type="alpha" maskUnits="userSpaceOnUse" x="-40" y="-90" width="379" height="160"><use href="#t4" x="1.5" y="0.4"/></mask><g mask="url(#m4)"><text id="t4" y="-0.20" font-size="44" fill="#686868"><tspan x="-2.75" letter-spacing="2.9" textLength="184.23" lengthAdjust="spacingAndGlyphs">Dashed:</tspan> <tspan x="200.35" letter-spacing="4.0" textLength="85.36" lengthAdjust="spacingAndGlyphs">LP3</tspan></text></g></g>
<g transform="translate(222.00,1021.90) scale(1.13,1)"><mask id="m5" mask-type="alpha" maskUnits="userSpaceOnUse" x="-40" y="-90" width="157" height="160"><use href="#t5" x="1.6" y="0.4"/></mask><g mask="url(#m5)"><text id="t5" y="-0.20" font-size="48" fill="#141414"><tspan x="-3.45" letter-spacing="0.88">800</tspan></text></g></g>
<g transform="translate(517.00,1021.90) scale(1.13,1)"><mask id="m6" mask-type="alpha" maskUnits="userSpaceOnUse" x="-40" y="-90" width="179" height="160"><use href="#t6" x="1.6" y="0.4"/></mask><g mask="url(#m6)"><text id="t6" y="-0.20" font-size="48" fill="#141414"><tspan x="-6.11" letter-spacing="0.71">1000</tspan></text></g></g>
<g transform="translate(822.30,1021.90) scale(1.13,1)"><mask id="m7" mask-type="alpha" maskUnits="userSpaceOnUse" x="-40" y="-90" width="178" height="160"><use href="#t7" x="1.6" y="0.4"/></mask><g mask="url(#m7)"><text id="t7" y="-0.20" font-size="48" fill="#141414"><tspan x="-6.11" letter-spacing="0.71">1200</tspan></text></g></g>
<g transform="translate(1127.50,1021.90) scale(1.13,1)"><mask id="m8" mask-type="alpha" maskUnits="userSpaceOnUse" x="-40" y="-90" width="178" height="160"><use href="#t8" x="1.6" y="0.4"/></mask><g mask="url(#m8)"><text id="t8" y="-0.20" font-size="48" fill="#141414"><tspan x="-6.11" letter-spacing="0.71">1400</tspan></text></g></g>
<g transform="translate(1433.70,1021.90) scale(1.13,1)"><mask id="m9" mask-type="alpha" maskUnits="userSpaceOnUse" x="-40" y="-90" width="177" height="160"><use href="#t9" x="1.6" y="0.4"/></mask><g mask="url(#m9)"><text id="t9" y="-0.20" font-size="48" fill="#141414"><tspan x="-6.11" letter-spacing="0.41">1600</tspan></text></g></g>
<g transform="translate(1739.50,1021.90) scale(1.13,1)"><mask id="m10" mask-type="alpha" maskUnits="userSpaceOnUse" x="-40" y="-90" width="177" height="160"><use href="#t10" x="1.6" y="0.4"/></mask><g mask="url(#m10)"><text id="t10" y="-0.20" font-size="48" fill="#141414"><tspan x="-6.11" letter-spacing="0.12">1800</tspan></text></g></g>
<g transform="translate(223.00,959.50) scale(1.13,1)"><mask id="m11" mask-type="alpha" maskUnits="userSpaceOnUse" x="-40" y="-90" width="108" height="160"><use href="#t11" x="1.6" y="0.4"/></mask><g mask="url(#m11)"><text id="t11" y="-0.20" font-size="48" fill="#141414"><tspan x="-3.45">0</tspan></text></g></g>
<g transform="translate(139.70,786.10) scale(1.13,1)"><mask id="m12" mask-type="alpha" maskUnits="userSpaceOnUse" x="-40" y="-90" width="181" height="160"><use href="#t12" x="1.6" y="0.4"/></mask><g mask="url(#m12)"><text id="t12" y="-0.20" font-size="48" fill="#141414"><tspan x="-4.34" letter-spacing="1.0">5000</tspan></text></g></g>
<g transform="translate(116.60,595.70) scale(1.13,1)"><mask id="m13" mask-type="alpha" maskUnits="userSpaceOnUse" x="-40" y="-90" width="202" height="160"><use href="#t13" x="1.6" y="0.4"/></mask><g mask="url(#m13)"><text id="t13" y="-0.20" font-size="48" fill="#141414"><tspan x="-6.11" letter-spacing="0.4">10000</tspan></text></g></g>
<g transform="translate(116.20,405.20) scale(1.13,1)"><mask id="m14" mask-type="alpha" maskUnits="userSpaceOnUse" x="-40" y="-90" width="202" height="160"><use href="#t14" x="1.6" y="0.4"/></mask><g mask="url(#m14)"><text id="t14" y="-0.20" font-size="48" fill="#141414"><tspan x="-6.11" letter-spacing="0.53">15000</tspan></text></g></g>
<g transform="translate(112.40,214.90) scale(1.13,1)"><mask id="m15" mask-type="alpha" maskUnits="userSpaceOnUse" x="-40" y="-90" width="206" height="160"><use href="#t15" x="1.6" y="0.4"/></mask><g mask="url(#m15)"><text id="t15" y="-0.20" font-size="48" fill="#141414"><tspan x="-3.45" letter-spacing="0.58">20000</tspan></text></g></g>
<g transform="translate(1527.50,651.70) scale(1.1,1)"><mask id="m16" mask-type="alpha" maskUnits="userSpaceOnUse" x="-40" y="-90" width="278" height="160"><use href="#t16" x="0.9" y="0.3"/></mask><g mask="url(#m16)"><text id="t16" y="-0.15" font-size="39" fill="#666666"><tspan x="-4.09" letter-spacing="1.58">1055</tspan> <tspan x="98.00" textLength="90.94" lengthAdjust="spacingAndGlyphs"><tspan font-size="46" dy="1.5">(</tspan><tspan dy="-1.5">LP2</tspan><tspan font-size="46" dy="1.5">)</tspan><tspan dy="-1.5"></tspan></tspan></text></g></g>
<g transform="translate(1527.50,694.10) scale(1.1,1)"><mask id="m17" mask-type="alpha" maskUnits="userSpaceOnUse" x="-40" y="-90" width="278" height="160"><use href="#t17" x="0.9" y="0.3"/></mask><g mask="url(#m17)"><text id="t17" y="-0.15" font-size="39" fill="#666666"><tspan x="-4.09" letter-spacing="1.27">1096</tspan> <tspan x="98.00" textLength="90.94" lengthAdjust="spacingAndGlyphs"><tspan font-size="46" dy="1.5">(</tspan><tspan dy="-1.5">LP2</tspan><tspan font-size="46" dy="1.5">)</tspan><tspan dy="-1.5"></tspan></tspan></text></g></g>
<g transform="translate(1527.50,736.50) scale(1.1,1)"><mask id="m18" mask-type="alpha" maskUnits="userSpaceOnUse" x="-40" y="-90" width="167" height="160"><use href="#t18" x="0.9" y="0.3"/></mask><g mask="url(#m18)"><text id="t18" y="-0.15" font-size="39" fill="#666666"><tspan x="-4.09" letter-spacing="1.58">1222</tspan></text></g></g>
<g transform="translate(1527.50,778.90) scale(1.1,1)"><mask id="m19" mask-type="alpha" maskUnits="userSpaceOnUse" x="-40" y="-90" width="167" height="160"><use href="#t19" x="0.9" y="0.3"/></mask><g mask="url(#m19)"><text id="t19" y="-0.15" font-size="39" fill="#666666"><tspan x="-4.09" letter-spacing="1.88">1291</tspan></text></g></g>
<g transform="translate(1527.50,821.30) scale(1.1,1)"><mask id="m20" mask-type="alpha" maskUnits="userSpaceOnUse" x="-40" y="-90" width="167" height="160"><use href="#t20" x="0.9" y="0.3"/></mask><g mask="url(#m20)"><text id="t20" y="-0.15" font-size="39" fill="#666666"><tspan x="-4.09" letter-spacing="1.27">1327</tspan></text></g></g>
<g transform="translate(1527.50,863.70) scale(1.1,1)"><mask id="m21" mask-type="alpha" maskUnits="userSpaceOnUse" x="-40" y="-90" width="167" height="160"><use href="#t21" x="0.9" y="0.3"/></mask><g mask="url(#m21)"><text id="t21" y="-0.15" font-size="39" fill="#666666"><tspan x="-4.09" letter-spacing="1.27">1577</tspan></text></g></g>
<g transform="translate(1527.50,906.10) scale(1.1,1)"><mask id="m22" mask-type="alpha" maskUnits="userSpaceOnUse" x="-40" y="-90" width="167" height="160"><use href="#t22" x="0.9" y="0.3"/></mask><g mask="url(#m22)"><text id="t22" y="-0.15" font-size="39" fill="#666666"><tspan x="-4.09" letter-spacing="1.58">1623</tspan></text></g></g>
</svg></body></html>
